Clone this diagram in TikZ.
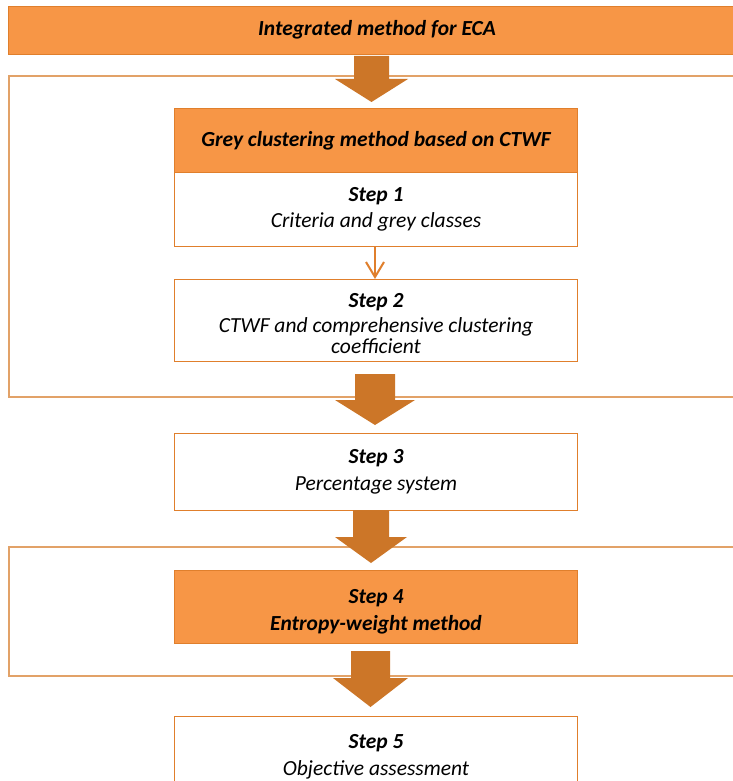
\documentclass[tikz,border=0pt]{standalone}
\usepackage{fontspec}
\setmainfont{Carlito}
\usetikzlibrary{calc}
\definecolor{orfill}{HTML}{F79646}
\definecolor{orline}{HTML}{E07F2C}
\definecolor{frline}{HTML}{E2A268}
\definecolor{arfill}{HTML}{CC7628}
\begin{document}
\begin{tikzpicture}[x=1pt,y=1pt,
  txt/.style={font=\fontsize{21.5}{20}\selectfont\itshape, align=center, inner sep=0pt},
  btxt/.style={font=\fontsize{21.5}{20}\selectfont\bfseries\itshape},
  obox/.style={txt, draw=orline, line width=1pt, fill=orfill, minimum width=403pt},
  wbox/.style={txt, draw=orline, line width=1pt, fill=white, minimum width=403pt},
  frame/.style={draw=frline, line width=1.8pt, fill=white, inner sep=0pt},
  thin arrow/.style={draw=orline, line width=2pt},
  blk/.style={fill=arfill}]
\useasboundingbox (0,0) rectangle (732,-781);
% big frames
\node[frame, minimum width=740pt, minimum height=321pt, anchor=north west] (fr1) at (8,-75) {};
\node[frame, minimum width=740pt, minimum height=129pt, anchor=north west] (fr2) at (8,-546) {};
% top bar
\node[obox, minimum width=740pt, minimum height=48pt, anchor=north west] (top) at (8,-6) {};
\node[txt, btxt] (toptxt) at (377,-30) {Integrated method for ECA};
% boxes
\node[obox, btxt, minimum height=64pt, anchor=north west] (grey) at (174,-108) {Grey clustering method based on CTWF};
\node[wbox, minimum height=74pt, anchor=north west] (s1) at (174,-172) {\textbf{Step 1}\\[6pt]Criteria and grey classes};
\node[wbox, minimum height=82pt, anchor=north west] (s2) at (174,-279) {\rule{0pt}{21pt}\textbf{Step 2}\\[5pt]CTWF and comprehensive clustering\\[1pt]coefficient};
\node[wbox, minimum height=77pt, anchor=north west] (s3) at (174,-433) {\textbf{Step 3}\\[7pt]Percentage system};
\node[obox, minimum height=73pt, anchor=north west] (s4) at (174,-570) {\rule{0pt}{24pt}\textbf{Step 4}\\[7pt]\textbf{Entropy-weight method}};
\node[wbox, minimum height=80pt, anchor=north west] (s5) at (174,-716) {\textbf{Step 5}\\[7pt]Objective assessment};
% thin arrow
\draw[thin arrow] (s1.south -| 375,0) -- (375,-276);
\draw[orline, line width=2pt, line join=miter] (366,-262) -- (375,-277) -- (384,-262);
% block arrows
\newcommand\blkarrow[7]{%
  \fill[blk] (#2-#5,#3) -- (#2+#5,#3) -- (#2+#5,#4) -- (#2+#6,#4) -- (#2,#7) -- (#2-#6,#4) -- (#2-#5,#4) -- cycle;}
\blkarrow{a1}{371.5}{-56}{-79}{17.5}{36.5}{-102}
\blkarrow{a2}{375}{-374}{-400}{20}{40}{-425}
\blkarrow{a3}{371}{-510}{-537}{18}{36}{-563}
\blkarrow{a4}{370.5}{-651}{-678}{19.5}{37.5}{-707}
\end{tikzpicture}
\end{document}
